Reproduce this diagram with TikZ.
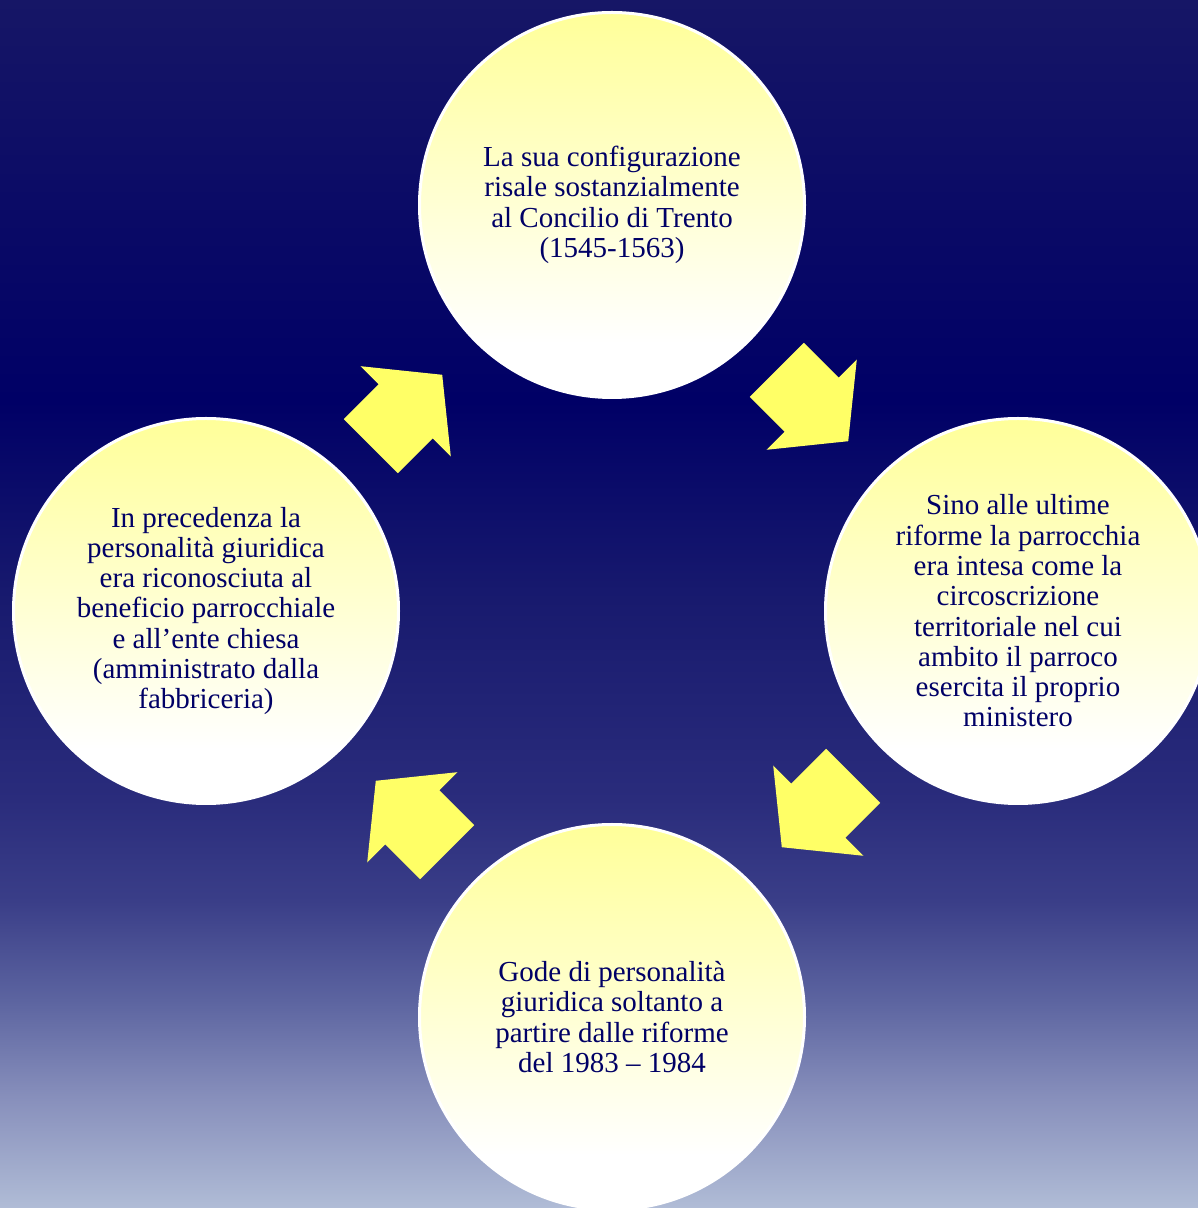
\documentclass[tikz,border=0pt]{standalone}
\usepackage{fontspec}
\setmainfont{Liberation Serif}
\usetikzlibrary{shapes.arrows,calc}

\definecolor{navytext}{RGB}{0,0,102}
\definecolor{arrowyellow}{RGB}{255,255,102}
\definecolor{bubbletop}{RGB}{255,255,153}
\definecolor{bgtop}{RGB}{22,22,102}
\definecolor{bgdark}{RGB}{0,0,102}
\definecolor{bgmid}{RGB}{24,26,110}
\definecolor{bglow}{RGB}{42,44,124}
\definecolor{bgA}{RGB}{58,62,136}
\definecolor{bgB}{RGB}{92,100,160}
\definecolor{bgC}{RGB}{136,144,188}
\definecolor{bgbottom}{RGB}{176,188,214}

\pgfdeclareverticalshading{backdrop}{100bp}{color(0bp)=(bgbottom); color(25bp)=(bgbottom);
  color(29.5bp)=(bgC); color(33.6bp)=(bgB); color(37.7bp)=(bgA); color(41.9bp)=(bglow);
  color(50.2bp)=(bgmid); color(58.4bp)=(bgdark); color(75bp)=(bgtop); color(100bp)=(bgtop)}
\pgfdeclareverticalshading{bubble}{100bp}{color(0bp)=(white); color(32bp)=(white);
  color(75bp)=(bubbletop); color(100bp)=(bubbletop)}

\begin{document}
\begin{tikzpicture}[x=1pt, y=1pt,
    bubble/.style={circle, draw=white, line width=3pt, shading=bubble, minimum size=385pt,
        inner sep=0pt, align=center, text=navytext, font=\fontsize{29}{30.3}\selectfont},
    cyclearrow/.style={single arrow, fill=arrowyellow, minimum height=101pt,
        inner xsep=0pt, inner ysep=38pt, single arrow head extend=25.5pt,
        single arrow tip angle=102}]
    % Background
    \useasboundingbox (0,0) rectangle (1198,1208);
    \clip (0,0) rectangle (1198,1208);
    \shade[shading=backdrop] (0,0) rectangle (1198,1208);

    % The four stages
    \node[bubble] (trento) at (612,1003)
        {La sua configurazione\\risale sostanzialmente\\al Concilio di Trento\\(1545-1563)};
    \node[bubble] (ambito) at (1018,597)
        {Sino alle ultime\\riforme la parrocchia\\era intesa come la\\circoscrizione\\territoriale nel cui\\ambito il parroco\\esercita il proprio\\ministero};
    \node[bubble] (riforme) at (612,191)
        {Gode di personalità\\giuridica soltanto a\\partire dalle riforme\\del 1983 – 1984};
    \node[bubble] (beneficio) at (206,597)
        {In precedenza la\\personalità giuridica\\era riconosciuta al\\beneficio parrocchiale\\e all’ente chiesa\\(amministrato dalla\\fabbriceria)};

    % Arrows between the stages
    \node[cyclearrow, rotate=-45] (a1) at ($(trento)!0.5!(ambito)!19pt!(trento)$) {};
    \node[cyclearrow, rotate=-135] (a2) at ($(ambito)!0.5!(riforme)!19pt!(ambito)$) {};
    \node[cyclearrow, rotate=135] (a3) at ($(riforme)!0.5!(beneficio)!19pt!(riforme)$) {};
    \node[cyclearrow, rotate=45] (a4) at ($(beneficio)!0.5!(trento)!19pt!(beneficio)$) {};
\end{tikzpicture}
\end{document}
